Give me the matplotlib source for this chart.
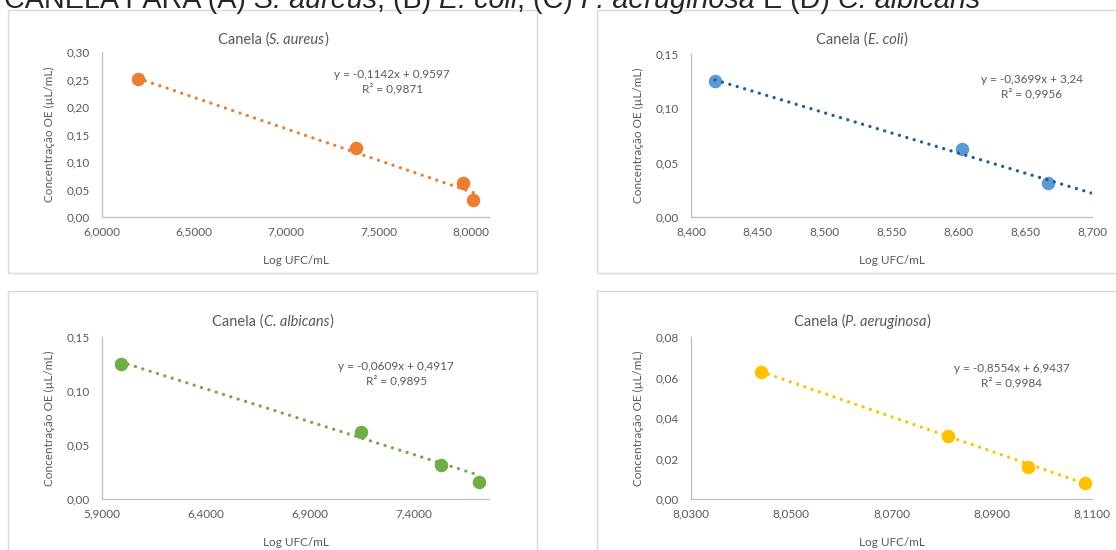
import matplotlib
matplotlib.use('Agg')
import matplotlib.pyplot as plt
from matplotlib.patches import Rectangle
from matplotlib.ticker import FuncFormatter
import numpy as np

W, H = 1116, 550
FONT = 'Lato'
GREY = '#595959'

# data
x_saureus = [6.195, 7.377, 7.960, 8.015]
y_saureus = [0.25, 0.125, 0.0625, 0.03125]
x_ecoli = [8.418, 8.603, 8.667]
y_ecoli = [0.125, 0.0625, 0.03125]
x_calb = [5.990, 7.145, 7.530, 7.710]
y_calb = [0.125, 0.0625, 0.03125, 0.015625]
x_paer = [8.0440, 8.0813, 8.0972, 8.1086]
y_paer = [0.0625, 0.03125, 0.015625, 0.0078]

# trendline coefficients (slope, intercept, R2) as printed
fit_saureus = (-0.1142, 0.9597, 0.9871)
fit_ecoli = (-0.3699, 3.24, 0.9956)
fit_calb = (-0.0609, 0.4917, 0.9895)
fit_paer = (-0.8554, 6.9437, 0.9984)

species = ['S. aureus', 'E. coli', 'C. albicans', 'P. aeruginosa']


def fmt_num(v, dec):
    return f'{v:.{dec}f}'.replace('.', ',')


def fmt_coef(v):
    s = f'{v:.4f}'.rstrip('0').rstrip('.')
    return s.replace('.', ',')


def text_width(fig, s, **kw):
    # width of a string including spaces, measured with a sentinel char
    r = fig.canvas.get_renderer()
    t = fig.text(0, 0, '|' + s + '|', **kw)
    w1 = t.get_window_extent(r).width
    t.remove()
    t = fig.text(0, 0, '||', **kw)
    w2 = t.get_window_extent(r).width
    t.remove()
    return w1 - w2


def rich_text(fig, x, y, parts, ha='center', **kw):
    # x, y in pixels (y from top, baseline); parts = [(text, style), ...]
    widths = [text_width(fig, s, style=st, **kw) for s, st in parts]
    x0 = x - sum(widths) / 2 if ha == 'center' else x
    for (s, st), w in zip(parts, widths):
        fig.text(x0 / W, 1 - y / H, s, style=st, ha='left', va='baseline', **kw)
        x0 += w


fig = plt.figure(figsize=(W / 100, H / 100), dpi=100)

# panel frames
for (l, t, r, b) in [(8, 9.5, 537, 273), (597, 9.5, 1130, 273),
                     (8, 291, 537, 560), (597, 291, 1130, 560)]:
    fig.patches.append(Rectangle((l / W, 1 - b / H), (r - l) / W, (b - t) / H,
                                 transform=fig.transFigure, fill=False,
                                 edgecolor='#D9D9D9', linewidth=1.0))


def add_panel(box, xs, ys, fit, name, color, line_color, xlim, xticks, xdec,
              ylim, yticks, eq_pos, title_x, title_y, extend=False):
    l, t, r, b = box
    ax = fig.add_axes([l / W, 1 - b / H, (r - l) / W, (b - t) / H])
    slope, icpt, r2 = fit
    x0 = min(xs)
    x1 = xlim[1] if extend else max(xs)
    xx = np.array([x0, x1])
    ax.scatter(xs, ys, s=95, color=color, zorder=3, linewidths=0)
    ax.plot(xx, slope * xx + icpt, color=line_color, lw=2.4,
            linestyle=(0, (0.01, 2.3)), dash_capstyle='round', zorder=4)
    ax.set_xlim(*xlim)
    ax.set_ylim(*ylim)
    ax.set_xticks(xticks)
    ax.set_yticks(yticks)
    ax.xaxis.set_major_formatter(FuncFormatter(lambda v, p: fmt_num(v, xdec)))
    ax.yaxis.set_major_formatter(FuncFormatter(lambda v, p: fmt_num(v, 2)))
    ax.tick_params(length=0, labelsize=8.5, labelcolor=GREY)
    ax.tick_params(axis='x', pad=7)
    ax.tick_params(axis='y', pad=9)
    for lab in ax.get_xticklabels() + ax.get_yticklabels():
        lab.set_family(FONT)
    for s in ['top', 'right']:
        ax.spines[s].set_visible(False)
    for s in ['left', 'bottom']:
        ax.spines[s].set_color('#BFBFBF')
        ax.spines[s].set_linewidth(0.9)
    ax.set_xlabel('Log UFC/mL', fontsize=8.5, color=GREY, family=FONT)
    ax.set_ylabel('Concentração OE (µL/mL)', fontsize=8.5, color=GREY, family=FONT)
    ax.yaxis.set_label_coords(-47 / (r - l), 0.5)
    ax.xaxis.set_label_coords(0.5, -38 / (b - t))
    sign = '-' if slope < 0 else ''
    eq = (f'y = {sign}{fmt_coef(abs(slope))}x + {fmt_coef(icpt)}\n'
          f'R² = {fmt_coef(r2)}')
    ax.text(eq_pos[0], eq_pos[1], eq, transform=ax.transAxes, ha='center',
            va='center', fontsize=8.5, color=GREY, family=FONT, linespacing=1.3)
    rich_text(fig, title_x, title_y,
              [('Canela (', 'normal'), (name, 'italic'), (')', 'normal')],
              fontsize=10.5, color=GREY, family=FONT)
    return ax


add_panel((102, 52, 489, 217), x_saureus, y_saureus, fit_saureus, species[0],
          '#ED7D31', '#ED7D31', (6.0, 8.1), np.arange(6.0, 8.01, 0.5), 4,
          (0, 0.30), np.arange(0, 0.301, 0.05), (0.75, 0.82), 273, 44)
add_panel((691, 54, 1092, 217), x_ecoli, y_ecoli, fit_ecoli, species[1],
          '#5B9BD5', '#255E91', (8.40, 8.70), np.arange(8.40, 8.701, 0.05), 3,
          (0, 0.15), np.arange(0, 0.151, 0.05), (0.85, 0.80), 862, 44,
          extend=True)
add_panel((102, 337, 489, 499), x_calb, y_calb, fit_calb, species[2],
          '#70AD47', '#70AD47', (5.9, 7.76), np.arange(5.9, 7.41, 0.5), 4,
          (0, 0.15), np.arange(0, 0.151, 0.05), (0.76, 0.775), 273, 326)
add_panel((691, 337, 1092, 499), x_paer, y_paer, fit_paer, species[3],
          '#FFC000', '#FFC000', (8.03, 8.11), np.arange(8.03, 8.111, 0.02), 4,
          (0, 0.08), np.arange(0, 0.081, 0.02), (0.80, 0.76), 862, 326)

# main heading, partly cut off at the top edge
rich_text(fig, 4, 8.3,
          [('CANELA PARA (A) ', 'normal'), ('S. aureus', 'italic'),
           (', (B) ', 'normal'), ('E. coli', 'italic'), (', (C) ', 'normal'),
           ('P. aeruginosa', 'italic'), (' E (D) ', 'normal'),
           ('C. albicans', 'italic')],
          ha='left', fontsize=20.7, color='#262626', family='Liberation Sans')

fig.savefig('out.png', dpi=100)
